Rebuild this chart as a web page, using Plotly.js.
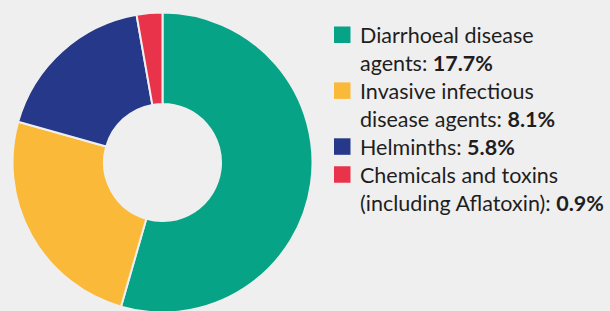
<!DOCTYPE html>
<html>
<head>
<meta charset="utf-8">
<script src="https://cdn.plot.ly/plotly-3.0.1.min.js"></script>
<style>
html,body{margin:0;padding:0;overflow:hidden;background:#f0efef;width:610px;height:311px;}
#chart{width:610px;height:330px;}
</style>
</head>
<body>
<div id="chart"></div>
<script>
// Data
var categories = ["Diarrhoeal disease agents", "Invasive infectious disease agents", "Helminths", "Chemicals and toxins (including Aflatoxin)"];
var values = [17.7, 8.1, 5.8, 0.9];
var colors = ["#07a386", "#fbb93a", "#25388a", "#e8334a"];
var legendLines = [
  ["Diarrhoeal disease", "agents:"],
  ["Invasive infectious", "disease agents:"],
  ["Helminths:"],
  ["Chemicals and toxins", "(including Aflatoxin):"]
];

var W = 610, H = 330, BG = "#f0efef";
function px(x) { return x / W; }
function py(y) { return 1 - y / H; }

// Legend text built from the data arrays
var lines = [];
var firstLineIdx = [];
legendLines.forEach(function (ls, i) {
  firstLineIdx.push(lines.length);
  ls.forEach(function (l, j) {
    if (j === ls.length - 1) lines.push(l + " <b>" + values[i].toFixed(1) + "%</b>");
    else lines.push(l);
  });
});

var fontSize = 21.5;
var lineH = fontSize * 1.3;
var firstBaseline = 43;
var shapes = firstLineIdx.map(function (li, i) {
  var b = firstBaseline + li * lineH;
  return {
    type: "rect", xref: "paper", yref: "paper",
    x0: px(334), x1: px(350.5), y0: py(b), y1: py(b - 16.5),
    fillcolor: colors[i], line: { width: 0 }
  };
});

var trace = {
  type: "pie",
  labels: categories,
  values: values,
  marker: { colors: colors, line: { color: BG, width: 2 } },
  hole: 0.39,
  sort: false,
  direction: "clockwise",
  rotation: 0,
  textinfo: "none",
  hoverinfo: "label+value",
  showlegend: false,
  domain: { x: [px(12.5), px(312.5)], y: [py(312.5), py(12.5)] }
};

var layout = {
  width: W, height: H,
  margin: { l: 0, r: 0, t: 0, b: 0 },
  paper_bgcolor: BG, plot_bgcolor: BG,
  showlegend: false,
  shapes: shapes,
  annotations: [{
    xref: "paper", yref: "paper",
    x: px(358), y: py(20), xanchor: "left", yanchor: "top",
    align: "left", showarrow: false,
    text: lines.join("<br>"),
    font: { family: "Lato, sans-serif", size: fontSize, color: "#1e1e1e" }
  }]
};

Plotly.newPlot("chart", [trace], layout, { displayModeBar: false, staticPlot: true });
</script>
</body>
</html>
